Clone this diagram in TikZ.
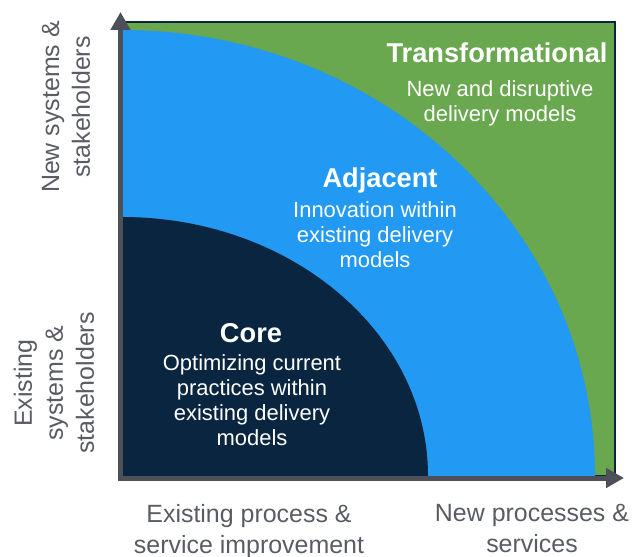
\documentclass[tikz,border=0pt]{standalone}
\usepackage{fontspec}
\setmainfont{Liberation Sans}
\usetikzlibrary{arrows.meta}

\definecolor{quadgreen}{HTML}{6AA84F}
\definecolor{quadblue}{HTML}{2299F2}
\definecolor{quadnavy}{HTML}{0A2540}
\definecolor{axisgray}{HTML}{4D5059}
\definecolor{labelgray}{HTML}{595C63}

\begin{document}
\begin{tikzpicture}[x = 0.02cm, y = 0.02cm,
		axis/.style = {draw = axisgray, line width = 2.85pt, line join = miter,
			arrows = {Triangle[length = 10.2pt, width = 10.8pt]-Triangle[length = 10.2pt, width = 10.8pt]}},
		title/.style = {font = \fontsize{15.5}{18}\selectfont\bfseries, text = white, inner sep = 0pt},
		body/.style = {font = \fontsize{12.5}{14.2}\selectfont, text = white, align = center, inner sep = 0pt},
		axislabel/.style = {font = \fontsize{14.2}{17.6}\selectfont, text = labelgray, align = center, inner sep = 0pt}]
		
		\useasboundingbox (0,0) rectangle (632,556);
		
		% corner and tips of the axes
		\coordinate (origin) at (120.5,78);
		\coordinate (ytip) at (120.5,544);
		\coordinate (xtip) at (624,78);
		
		% outer square
		\draw[fill = quadgreen, draw = quadnavy, line width = 0.9pt] (122,80) rectangle (615,534);
		% middle quarter
		\fill[quadblue] (122,80) -- (595,80) arc (0:90:473 and 446) -- cycle;
		% inner quarter
		\fill[quadnavy] (122,80) -- (428,80) arc (0:90:306 and 259) -- cycle;
		
		% axes
		\draw[axis] (ytip) -- (origin) -- (xtip);
		
		% texts in the quarters
		\node[title, anchor = base] (transTitle) at (497,494) {Transformational};
		\node[body, anchor = north] (transText) at (500,476) {New and disruptive\\delivery models};
		
		\node[title, anchor = base] (adjTitle) at (380,369) {Adjacent};
		\node[body, anchor = north] (adjText) at (375,355) {Innovation within\\existing delivery\\models};
		
		\node[title, anchor = base] (coreTitle) at (251,214) {Core};
		\node[body, anchor = north] (coreText) at (252,202) {Optimizing current\\practices within\\existing delivery\\models};
		
		% axis labels
		\node[axislabel, anchor = north] (xlabLeft) at (249,52) {Existing process \&\\service improvement};
		\node[axislabel, anchor = north] (xlabRight) at (532,52) {New processes \&\\services};
		\node[axislabel, rotate = 90] (ylabTop) at (66,449) {New systems \&\\stakeholders};
		\node[axislabel, rotate = 90] (ylabBottom) at (54,173) {Existing\\systems \&\\stakeholders};
		
	\end{tikzpicture}
\end{document}
